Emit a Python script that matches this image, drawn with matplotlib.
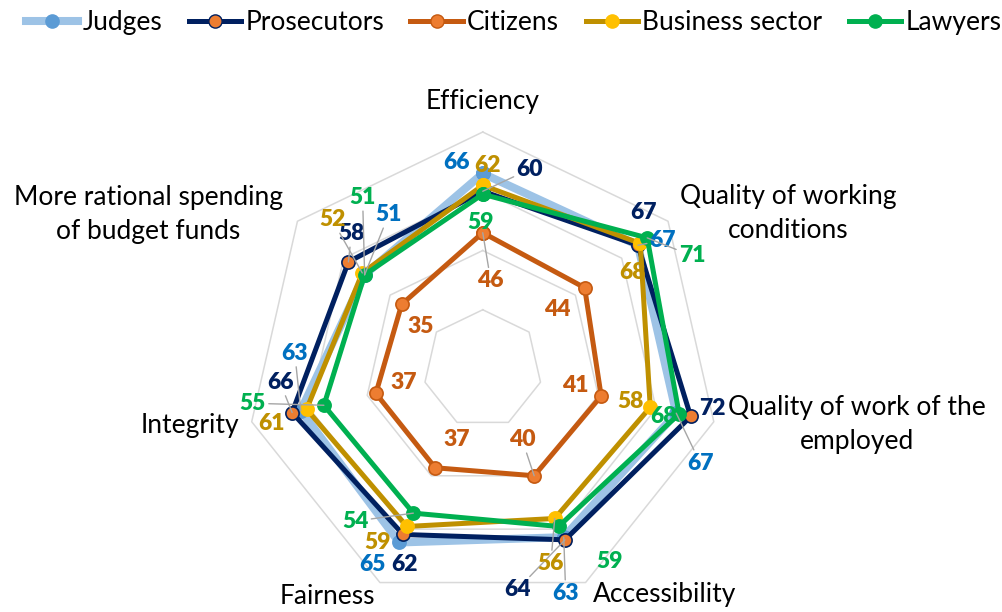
import numpy as np
import matplotlib
matplotlib.use("Agg")
import matplotlib.pyplot as plt
from matplotlib.lines import Line2D

plt.rcParams['font.family'] = ['Lato', 'DejaVu Sans']

categories = ["Efficiency", "Quality of working\nconditions", "Quality of work of the\nemployed",
              "Accessibility", "Fairness", "Integrity", "More rational spending\nof budget funds"]
series_names = ["Judges", "Prosecutors", "Citizens", "Business sector", "Lawyers"]
judges = [66, 67, 67, 63, 65, 63, 51]
prosecutors = [60, 67, 72, 64, 62, 66, 58]
citizens = [46, 44, 41, 40, 37, 37, 35]
business = [62, 68, 58, 56, 59, 61, 52]
lawyers = [59, 71, 68, 59, 54, 55, 51]
grid_levels = [20, 40, 60, 80]

values = [judges, prosecutors, citizens, business, lawyers]
line_colors = ['#9DC3E6', '#002060', '#C55A11', '#BF9000', '#00B050']
marker_face = ['#5B9BD5', '#ED7D31', '#ED7D31', '#FFC000', '#00B050']
marker_edge = ['#5B9BD5', '#002060', '#C55A11', '#FFC000', '#00B050']
label_colors = ['#0070C0', '#002060', '#C55A11', '#BF9000', '#00B050']
line_widths = [5.8, 3.6, 3.6, 3.6, 3.6]

# label offsets in pixels (dx right, dy down) and leader flags
label_offsets = [
    [(-26, -11), (25, -5), (24, 50), (2, 56), (-27, 22), (-6, -57), (24, -60)],
    [(47, -22), (6, -33), (22, -8), (-48, 50), (1, 30), (-12, -30), (3, -28)],
    [(8, 48), (-27, 22), (-26, -11), (-12, -36), (22, -28), (28, -11), (19, 22)],
    [(5, -20), (-8, 29), (-20, -6), (-4, 45), (-29, 16), (-35, 14), (-30, -53)],
    [(-2, 28), (45, 18), (-16, 3), (51, 35), (-58, 8), (-71, -2), (-2, -77)],
]
leaders = [
    [0, 1, 1, 1, 0, 1, 1],
    [1, 0, 0, 1, 0, 1, 1],
    [1, 0, 0, 1, 0, 0, 0],
    [0, 0, 0, 1, 0, 0, 1],
    [0, 1, 0, 0, 1, 1, 1],
]
cat_offsets = [(0, -31), (120, -8), (143, 3), (79, 12), (-53, 14), (-62, 4), (-149, -7)]

n = len(categories)
theta = np.arange(n) * 2 * np.pi / n
theta_closed = np.append(theta, theta[0])

fig = plt.figure(figsize=(10.03, 6.12), dpi=100)
ax = fig.add_axes([0.245, 0.0098, 0.4726, 0.7745], projection='polar')
ax.set_theta_offset(np.pi / 2)
ax.set_theta_direction(-1)
ax.set_ylim(0, 80)
ax.grid(False)
ax.spines['polar'].set_visible(False)
ax.set_xticks([])
ax.set_yticks([])
ax.patch.set_alpha(0)

for lvl in grid_levels:
    ax.plot(theta_closed, [lvl] * (n + 1), color='#D9D9D9', lw=1.1, zorder=1, clip_on=False)

for i, vals in enumerate(values):
    v = list(vals) + [vals[0]]
    ax.plot(theta_closed, v, color=line_colors[i], lw=line_widths[i], zorder=2 + i,
            marker='o', markersize=9.5, markerfacecolor=marker_face[i],
            markeredgecolor=marker_edge[i], markeredgewidth=1.2, clip_on=False,
            solid_joinstyle='miter')

for i, vals in enumerate(values):
    for j, val in enumerate(vals):
        dx, dy = label_offsets[i][j]
        kw = {}
        if leaders[i][j]:
            kw['arrowprops'] = dict(arrowstyle='-', color='#A6A6A6', lw=1.0, shrinkA=0, shrinkB=0)
        ax.annotate(str(val), xy=(theta[j], val), xytext=(dx, -dy), textcoords='offset pixels',
                    ha='center', va='center', fontsize=16.5, fontweight='heavy',
                    color=label_colors[i], zorder=20, annotation_clip=False, **kw)

for j, cat in enumerate(categories):
    dx, dy = cat_offsets[j]
    ax.annotate(cat, xy=(theta[j], 80), xytext=(dx, -dy), textcoords='offset pixels',
                ha='center', va='center', fontsize=19, color='black', linespacing=1.45,
                annotation_clip=False)

handles = [Line2D([0], [0], color=line_colors[i], lw=line_widths[i], marker='o', markersize=9.5,
                  markerfacecolor=marker_face[i], markeredgecolor=marker_edge[i])
           for i in range(len(series_names))]
fig.legend(handles, series_names, loc='upper center', bbox_to_anchor=(0.512, 1.005), ncol=5,
           frameon=False, fontsize=19, handlelength=2.0, handletextpad=0.15, columnspacing=1.0,
           borderaxespad=0.1)

fig.savefig('out.png', dpi=100)
